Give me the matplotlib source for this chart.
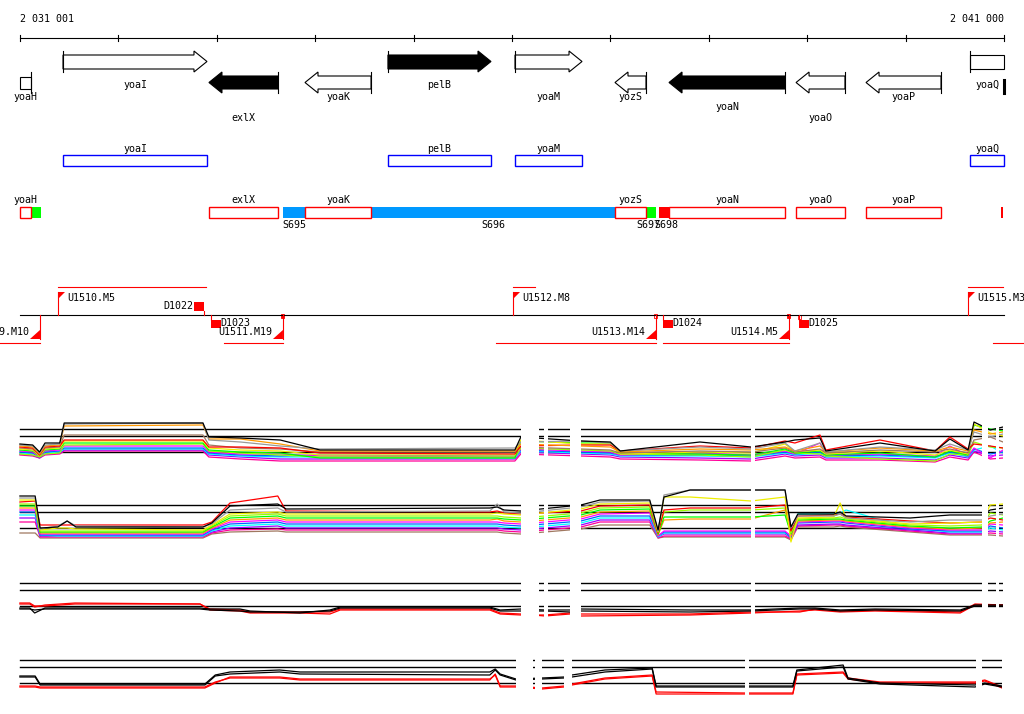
import numpy as np
import matplotlib
matplotlib.use("Agg")
import matplotlib.pyplot as plt
from matplotlib.patches import Polygon, Rectangle

plt.rcParams['font.family'] = 'DejaVu Sans Mono'
plt.rcParams['font.size'] = 7.2

# genome window (bp)
view_start = 2031001
view_end = 2041000
ticks = [2031001 + 1000 * k for k in range(10)] + [2041000]

# annotated genes
gene_names = ["yoaH", "yoaI", "exlX", "yoaK", "pelB", "yoaM", "yozS", "yoaN", "yoaO", "yoaP", "yoaQ"]
gene_start = [2031001, 2031438, 2032921, 2033897, 2034740, 2036031, 2037047, 2037596, 2038887, 2039598, 2040655]
gene_end = [2031113, 2032901, 2033623, 2034568, 2035787, 2036712, 2037362, 2038775, 2039384, 2040360, 2041000]
gene_strand = [-1, 1, -1, -1, 1, 1, -1, -1, -1, -1, 1]
gene_filled = [False, False, True, False, True, False, False, True, False, False, False]

# segments track
seg_names = ["S695", "S696", "S697", "S698", ""]
seg_start = [2033673, 2034568, 2037362, 2037494, 2031113]
seg_end = [2033897, 2037047, 2037464, 2037596, 2031214]
seg_color = ["#0099ff", "#0099ff", "#00ff00", "#ff0000", "#00ff00"]

# promoters / terminators
prom_names = ["U1509.M10", "U1510.M5", "U1511.M19", "U1512.M8", "U1513.M14", "U1514.M5", "U1515.M3"]
prom_pos = [2031204, 2031387, 2033673, 2036011, 2037464, 2038815, 2040634]
prom_strand = [-1, 1, -1, 1, -1, -1, 1]
prom_mark = ["", "", "filled", "", "open", "filled", ""]
term_names = ["D1022", "D1023", "D1024", "D1025"]
term_pos = [2032871, 2032942, 2037535, 2038917]
term_strand = [1, -1, -1, -1]
term_mark = ["", "", "", "open"]
tu_start = [2030700, 2031387, 2033074, 2035838, 2036011, 2037535, 2040634, 2040888]
tu_end = [2031204, 2032891, 2033673, 2037464, 2036234, 2038815, 2040990, 2041400]
tu_strand = [-1, 1, -1, -1, 1, -1, 1, -1]

# expression profiles (signal level, 0 = lowest reference line)
ref_levels = [0, 16, 23]

x_p1 = [2031000, 2031130, 2031200, 2031255, 2031405, 2031450, 2032860, 2032920, 2033240, 2033645,
        2034050, 2036030, 2036090, 2036700, 2037000, 2037100, 2037910, 2038430, 2038775, 2038875,
        2039130, 2039190, 2039740, 2040300, 2040450, 2040635, 2040695, 2040860, 2040990]
p1_black = [8, 7, 0, 9, 9, 29, 29, 15, 14, 12, 2, 2, 15, 11, 10, 1, 10, 5, 10, 12, 14, 1, 9, 1, 13, 2, 30, 22, 25]
p1_gray = [7, 6, -1, 7, 8, 28, 29, 12, 10, 6, 3, 4, 10, 11, 9, 1, 5, 3, 9, 1, 9, 0, 5, 2, 8, 2, 20, 15, 18]
p1_orange = [6, 5, -2, 6, 7, 26, 27, 13, 13, 8, 1, 1, 8, 6, 5, 0, 3, 2, 5, 1, 6, 0, 4, 1, 5, 1, 22, 18, 20]
p1_red = [5, 4, -3, 5, 6, 12, 12, 5, 5, 4, -1, -2, 6, 7, 7, 1, 6, 4, 11, 9, 17, 2, 12, 1, 15, 3, 8, 6, 4]
p1_brown = [4, 3, -3, 4, 5, 17, 17, 7, 4, 3, 0, 0, 5, 3, 2, -1, 1, 0, 4, 0, 3, -1, 2, 0, 3, -1, 12, 15, 10]
p1_yellow = [3, 2, -4, 3, 4, 11, 11, 4, 2, 1, -3, -3, 12, 8, 8, -2, 0, -1, 8, 0, 2, -2, 1, -3, 2, -2, 28, 19, 16]
p1_green = [2, 1, -4, 2, 3, 9, 9, 2, 0, -1, -6, -6, 11, 9, 9, -1, -2, -3, 3, -1, 1, -3, -1, -5, 1, -3, 27, 23, 21]
p1_lime = [-2, -3, -5, -2, -1, 7, 8, 1, -1, -3, -5, -5, 4, 2, 1, -2, -3, -5, 2, -1, -2, -4, -7, -9, -2, -3, 10, 5, 4]
p1_magenta = [1, 0, -5, 1, 2, 6, 6, 0, -2, -2, -4, -5, 3, 1, 0, -3, -1, -3, 1, -2, 9, -3, -2, -4, 6, -4, 4, -6, 2]
p1_blue = [0, -1, -5, 0, 1, 4, 4, -1, -3, -4, -3, -4, 2, 0, -1, -3, -3, -4, 0, -2, 0, -4, -3, -5, 0, -4, 3, -2, 0]
p1_cyan = [-1, -2, -4, -1, 0, 3, 3, -2, -4, -5, -5, -6, 1, -1, -2, -4, -4, -5, -1, -3, -1, -5, -4, -6, -1, -5, 2, 6, -1]
p1_purple = [-2, -3, -6, -2, -1, 2, 2, -3, -5, -7, -7, -7, 0, -2, -3, -5, -6, -7, -2, -4, -3, -6, -6, -8, -3, -6, 1, -4, -3]
p1_pink = [-3, -4, -6, -3, -2, 1, 1, -5, -7, -9, -9, -9, -2, -4, -5, -7, -8, -9, -4, -6, -5, -8, -8, -10, -5, -8, 0, -7, -6]

x_p2 = [2031000, 2031155, 2031205, 2031385, 2031480, 2031570, 2032860, 2032950, 2033135, 2033620,
        2033705, 2035775, 2035850, 2035920, 2036090, 2036700, 2036895, 2037400, 2037485, 2037545,
        2037810, 2038430, 2038775, 2038835, 2038905, 2039270, 2039335, 2039395, 2040045, 2040450,
        2040775, 2040860, 2040990]
p2_black = [32, 32, 0, 1, 7, 1, 1, 5, 22, 24, 19, 20, 21, 18, 17, 23, 28, 28, -2, 31, 38, 38, 38, 1, 14, 14, 16, 12, 10, 13, 13, 18, 20]
p2_gray = [30, 30, -1, 2, 7, 2, 1, 4, 18, 20, 16, 17, 24, 16, 15, 21, 26, 27, -3, 33, 38, 38, 38, 0, 12, 12, 14, 10, 6, 8, 8, 12, 14]
p2_yellow = [28, 28, -2, 0, 0, -1, -2, 3, 14, 16, 14, 14, 15, 14, 13, 19, 24, 25, -4, 31, 31, 27, 31, -14, 10, 11, 25, 10, 4, 5, 6, 23, 24]
p2_red = [26, 27, 3, 3, 3, 3, 3, 6, 25, 32, 17, 16, 17, 15, 14, 17, 22, 23, -5, 18, 20, 20, 23, -3, 12, 13, 14, 11, 7, 5, 6, 10, 8]
p2_lime = [24, 24, -3, -3, -3, -3, -3, 2, 12, 14, 12, 12, 12, 11, 10, 15, 20, 21, -4, 16, 18, 18, 20, -5, 9, 10, 11, 9, 3, 2, 3, 15, 13]
p2_green = [22, 22, -4, -4, -4, -4, -4, 1, 10, 12, 10, 10, 10, 9, 8, 13, 18, 19, -6, 11, 11, 11, 13, -6, 8, 9, 9, 8, 2, 0, 1, 7, 10]
p2_orange = [20, 20, -5, -5, -5, -5, -5, 0, 8, 10, 8, 8, 9, 7, 6, 11, 16, 17, -7, 8, 9, 9, 18, -7, 7, 8, 8, 7, 1, -1, 0, 5, 6]
p2_magenta = [18, 18, -6, -6, -6, -6, -6, -1, 6, 8, 6, 6, 6, 5, 4, 9, 14, 15, -8, -3, -3, -3, -3, -8, 6, 7, 7, 6, 0, -2, -2, 4, 3]
p2_blue = [16, 16, -7, -7, -7, -7, -7, -2, 4, 6, 4, 4, 4, 3, 2, 7, 12, 12, -8, -4, -4, -4, -4, -9, 5, 6, 6, 5, -1, -3, -3, 2, 0]
p2_cyan = [13, 13, -7, -8, -8, -8, -8, -3, 2, 4, 2, 2, 2, 1, 0, 5, 10, 10, -9, -5, -5, -5, -5, -9, 14, 14, 15, 18, 0, -4, -4, 0, -2]
p2_purple = [10, 10, -8, -8, -8, -8, -8, -4, 0, 2, 0, 0, 0, -1, -2, 3, 8, 8, -9, -6, -6, -6, -6, -10, 3, 4, 4, 3, -2, -5, -5, -3, -4]
p2_pink = [6, 6, -9, -9, -9, -9, -9, -5, -2, -1, -2, -2, -2, -3, -4, 1, 6, 6, -10, -8, -8, -8, -8, -11, 2, 3, 3, 2, -3, -6, -6, -5, -6]
p2_brown = [-5, -5, -10, -10, -10, -10, -10, -6, -4, -3, -4, -4, -4, -5, -6, -1, 3, 3, -10, -9, -9, -9, -9, -12, 1, 1, 2, 1, -4, -7, -7, -7, -8]

x_p3 = [2031000, 2031100, 2031150, 2031255, 2031560, 2032830, 2032930, 2033235, 2033340, 2033845,
        2034150, 2034255, 2035775, 2035880, 2036090, 2036335, 2036590, 2036700, 2037810, 2038430,
        2038925, 2039080, 2039335, 2039690, 2040555, 2040705, 2040990]
p3_black1 = [-2, -2, -7, -2, -2, -2, -3, -3, -5, -7, -4, -1, -1, -4, -3, -4, -4, -3, -4, -4, -2, -2, -4, -3, -4, 1, 1]
p3_black2 = [-3, -3, -4, -3, -3, -3, -4, -5, -6, -6, -5, -2, -2, -5, -5, -5, -6, -5, -6, -5, -3, -3, -5, -4, -5, 0, 0]
p3_red1 = [3, 3, 0, 0, 2, 2, -3, -4, -6, -6, -6, -3, -3, -7, -8, -10, -8, -8, -8, -6, -6, -3, -5, -4, -6, 2, 1]
p3_red2 = [2, 2, -1, 1, 3, 2, -4, -5, -7, -7, -8, -4, -4, -8, -9, -9, -7, -10, -9, -7, -5, -4, -6, -5, -7, 1, 1]

x_p4 = [2031000, 2031155, 2031205, 2032880, 2032985, 2033135, 2033640, 2033845, 2035775, 2035830,
        2035880, 2036040, 2036305, 2036530, 2036610, 2036945, 2037425, 2037465, 2038365, 2038855,
        2038895, 2039365, 2039415, 2039740, 2040705, 2040805, 2040980]
p4_black1 = [7, 7, -1, -1, 8, 11, 13, 11, 11, 14, 9, 4, 5, 6, 8, 13, 15, -3, -3, -3, 13, 18, 5, 0, -2, 0, -3]
p4_black2 = [6, 6, -2, -2, 7, 9, 11, 9, 8, 13, 8, 3, 4, 5, 6, 11, 14, -4, -4, -4, 12, 16, 4, -1, -4, -1, -4]
p4_red1 = [-3, -3, -4, -4, 1, 5, 5, 3, 3, 9, -3, -3, -5, -3, -1, 5, 8, -9, -10, -10, 9, 11, 5, 1, 1, 3, -4]
p4_red2 = [-4, -4, -5, -5, 0, 6, 6, 4, 4, 8, -4, -4, -6, -4, -2, 4, 7, -11, -11, -11, 8, 10, 4, 0, 0, 2, -5]

# regions without probes
gaps_a = [(2036092, 2036275), (2036326, 2036366), (2036590, 2036702), (2038429, 2038470),
          (2040776, 2040837), (2040919, 2040949)]
gaps_b = [(2036041, 2036214), (2036234, 2036305), (2036529, 2036610), (2038368, 2038409),
          (2040715, 2040776)]

W, H = 1024, 714
bpp = (view_end - view_start) / 984.0
xlo, xhi = view_start - 20 * bpp, view_start + 1004 * bpp

fig = plt.figure(figsize=(W / 100, H / 100), dpi=100)
ax = fig.add_axes([0, 0, 1, 1])
ax.set_xlim(xlo, xhi)
ax.set_ylim(H, 0)
ax.axis('off')
lw = 0.8

# ruler
ax.plot([view_start, view_end], [38, 38], color='black', lw=lw)
for t in ticks:
    ax.plot([t, t], [35, 41], color='black', lw=lw)
ax.text(view_start, 19, '{:,}'.format(view_start).replace(',', ' '), ha='left', va='center')
ax.text(view_end, 19, '{:,}'.format(view_end).replace(',', ' '), ha='right', va='center')

# gene arrows
head = 13 * bpp
gene_label_y = [97, 85, 118, 97, 85, 97, 97, 107, 118, 97, 85]
for name, s, e, st, fl, ly in zip(gene_names, gene_start, gene_end, gene_strand, gene_filled, gene_label_y):
    fc = 'black' if fl else 'white'
    if st > 0:
        b0, b1, h0, h1 = 55, 69, 51, 72
        if e >= view_end:
            pts = [(s, b0), (e, b0), (e, b1), (s, b1)]
        else:
            pts = [(s, b0), (e - head, b0), (e - head, h0), (e, (h0 + h1) / 2),
                   (e - head, h1), (e - head, b1), (s, b1)]
        tick_x = s
    else:
        b0, b1, h0, h1 = 76, 89, 72, 93
        if s <= view_start:
            pts = [(s, b0 + 1), (e, b0 + 1), (e, b1), (s, b1)]
        else:
            pts = [(e, b0), (s + head, b0), (s + head, h0), (s, (h0 + h1) / 2),
                   (s + head, h1), (s + head, b1), (e, b1)]
        tick_x = e
    ax.add_patch(Polygon(pts, closed=True, facecolor=fc, edgecolor='black', lw=lw))
    ax.plot([tick_x, tick_x], [h0, h1], color='black', lw=lw)
    ax.text((s + e) / 2, ly, name, ha='center', va='center')
ax.plot([view_end, view_end], [80, 93], color='black', lw=2.2)

# blue boxes (forward genes)
for name, s, e, st in zip(gene_names, gene_start, gene_end, gene_strand):
    if st > 0:
        ax.add_patch(Rectangle((s, 155), e - s, 11, facecolor='white', edgecolor='#0000ff', lw=1.0))
        ax.text((s + e) / 2, 149, name, ha='center', va='center')

# segments and red boxes (reverse genes)
for name, s, e, c in zip(seg_names, seg_start, seg_end, seg_color):
    ax.add_patch(Rectangle((s, 207), e - s, 11, facecolor=c, edgecolor='none'))
seg_label_x = [0, 0, -3, 2]
for name, s, e, dx in zip(seg_names, seg_start, seg_end, seg_label_x):
    if name:
        ax.text((s + e) / 2 + dx * bpp, 225, name, ha='center', va='center')
for name, s, e, st in zip(gene_names, gene_start, gene_end, gene_strand):
    if st < 0:
        ax.add_patch(Rectangle((s, 207), e - s, 11, facecolor='white', edgecolor='#ff0000', lw=1.0))
        ax.text((s + e) / 2, 200, name, ha='center', va='center')
ax.add_patch(Rectangle((2040970, 207), 20, 11, facecolor='#ff0000', edgecolor='none'))

# promoters / terminators track
red = '#ff0000'
ax.plot([view_start, view_end], [315, 315], color='black', lw=lw)
for s, e, st in zip(tu_start, tu_end, tu_strand):
    y = 287 if st > 0 else 343
    ax.plot([s, e], [y, y], color=red, lw=lw)
for name, p, st, mk in zip(prom_names, prom_pos, prom_strand, prom_mark):
    if st > 0:
        ax.plot([p, p], [292, 315], color=red, lw=lw)
        ax.add_patch(Polygon([(p, 292), (p + 7 * bpp, 292), (p, 299)], facecolor=red, edgecolor='none'))
        ax.text(p + 9 * bpp, 298, name, ha='left', va='center')
    else:
        ax.plot([p, p], [315, 339], color=red, lw=lw)
        ax.add_patch(Polygon([(p, 339), (p - 10 * bpp, 339), (p, 330)], facecolor=red, edgecolor='none'))
        ax.text(p - 11 * bpp, 332, name, ha='right', va='center')
        if mk:
            ax.add_patch(Rectangle((p - 2 * bpp, 314), 3 * bpp, 4,
                                   facecolor=red if mk == 'filled' else 'white', edgecolor=red, lw=0.6))
for name, p, st, mk in zip(term_names, term_pos, term_strand, term_mark):
    if st > 0:
        ax.plot([p, p], [311, 315], color=red, lw=lw)
        ax.add_patch(Rectangle((p - 10 * bpp, 302), 10 * bpp, 9, facecolor=red, edgecolor='none'))
        ax.text(p - 11 * bpp, 306, name, ha='right', va='center')
    else:
        ax.plot([p, p], [315, 320], color=red, lw=lw)
        ax.add_patch(Rectangle((p, 320), 10 * bpp, 8, facecolor=red, edgecolor='none'))
        ax.text(p + 9 * bpp, 323, name, ha='left', va='center')
        if mk:
            ax.add_patch(Rectangle((p - 1 * bpp, 315), 3 * bpp, 4, facecolor='white', edgecolor=red, lw=0.6))

# expression panels
colors_many = ['#000000', '#999999', '#ff9900', '#ff0000', '#a07860', '#eeee00', '#00ff00',
               '#99ff00', '#ff00ff', '#0066ff', '#00ffff', '#9900ff', '#ff0099']
colors_p2 = ['#000000', '#999999', '#eeee00', '#ff0000', '#99ff00', '#00ff00', '#ff9900',
             '#ff00ff', '#0066ff', '#00ffff', '#9900ff', '#ff0099', '#a07860']
p1_rows = [p1_black, p1_gray, p1_orange, p1_red, p1_brown, p1_yellow, p1_green,
           p1_lime, p1_magenta, p1_blue, p1_cyan, p1_purple, p1_pink]
p2_rows = [p2_black, p2_gray, p2_yellow, p2_red, p2_lime, p2_green, p2_orange,
           p2_magenta, p2_blue, p2_cyan, p2_purple, p2_pink, p2_brown]


def draw_panel(base, x, rows, colors, gaps, last):
    pax = fig.add_axes([0, 1 - (base + 20) / H, 1, 65 / H])
    pax.set_xlim(xlo, xhi)
    pax.set_ylim(-20, 45)
    pax.axis('off')
    for lv in ref_levels:
        pax.plot([view_start, last], [lv, lv], color='black', lw=1.0, zorder=1)
    for vals, c in list(zip(rows, colors))[::-1]:
        pax.plot(x, vals, color=c, lw=0.9, zorder=2)
    for a, b in gaps + [(last, xhi + 1000)]:
        pax.axvspan(a, b, color='white', lw=0, zorder=5)


draw_panel(452, x_p1, p1_rows, colors_many, gaps_a, 2040990)
draw_panel(528, x_p2, p2_rows, colors_p2, gaps_a, 2040990)
draw_panel(606, x_p3, [p3_black1, p3_black2, p3_red1, p3_red2],
           ['#000000', '#000000', '#ff0000', '#ff0000'], gaps_a, 2040990)
draw_panel(683, x_p4, [p4_black1, p4_black2, p4_red1, p4_red2],
           ['#000000', '#000000', '#ff0000', '#ff0000'], gaps_b, 2040980)

fig.savefig("out.png", dpi=100)
